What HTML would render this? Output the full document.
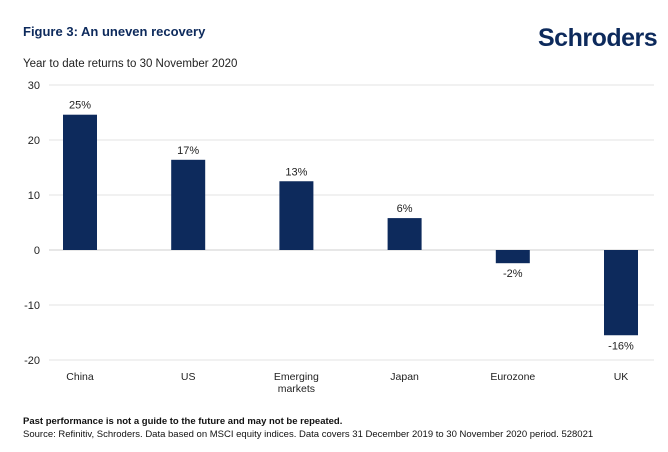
<!DOCTYPE html>
<html><head><meta charset="utf-8"><style>
body{margin:0;background:#fff;font-family:"Liberation Sans",sans-serif;}
svg text{font-family:"Liberation Sans",sans-serif;}
</style></head><body>
<svg width="668" height="447" viewBox="0 0 668 447">
<text x="23" y="36" font-size="13" font-weight="bold" fill="#0d2a5c">Figure 3: An uneven recovery</text>
<text x="538" y="46" font-size="25" font-weight="bold" fill="#0d2a5c" letter-spacing="-0.5">Schroders</text>
<text x="23" y="67" font-size="11.5" fill="#222">Year to date returns to 30 November 2020</text>
<g id="grid"></g>
<g id="bars"></g>
<text x="23" y="424" font-size="9.5" font-weight="bold" fill="#111">Past performance is not a guide to the future and may not be repeated.</text>
<text x="23" y="437" font-size="9.5" fill="#111">Source: Refinitiv, Schroders. Data based on MSCI equity indices. Data covers 31 December 2019 to 30 November 2020 period. 528021</text>
</svg>
<script>
const categories=["China","US","Emerging\nmarkets","Japan","Eurozone","UK"];
const values=[24.6,16.4,12.5,5.8,-2.4,-15.5];
const labels=["25%","17%","13%","6%","-2%","-16%"];
const ticks=[30,20,10,0,-10,-20];
const NS="http://www.w3.org/2000/svg";
function y(v){return 250-5.5*v;}
function xc(i){return 80+i*108.2;}
function mk(t,a,p){const e=document.createElementNS(NS,t);for(const k in a)e.setAttribute(k,a[k]);p.appendChild(e);return e;}
const g=document.getElementById('grid'),b=document.getElementById('bars');
ticks.forEach(t=>{
 const l=mk('line',{x1:49,x2:654,y1:y(t),y2:y(t),stroke:t===0?'#cfcfcf':'#e3e3e3','stroke-width':1},g);
 
 
 const tx=mk('text',{x:40,y:y(t)+4,'font-size':11,'text-anchor':'end',fill:'#222'},g);
 tx.textContent=t;
 
 
});
values.forEach((v,i)=>{
 const r=mk('rect',{x:xc(i)-17,width:34,y:Math.min(y(v),y(0)),height:Math.abs(y(v)-y(0)),fill:'#0d2a5c'},b);
 
 
 const lt=mk('text',{x:xc(i),y:v>=0?y(v)-6:y(v)+14,'font-size':11,'text-anchor':'middle',fill:'#222'},b);
 lt.textContent=labels[i];
 
 
 categories[i].split('\n').forEach((s,j)=>{
  const ct=mk('text',{x:xc(i),y:380+j*12,'font-size':10.5,'text-anchor':'middle',fill:'#222'},b);
  ct.textContent=s;
  
  
 });
});
</script>
</body></html>
